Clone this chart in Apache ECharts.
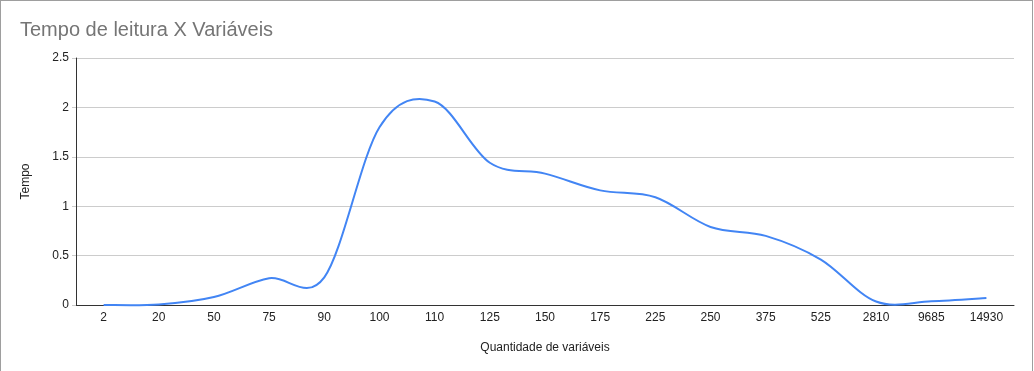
<!DOCTYPE html>
<html><head><meta charset="utf-8">
<script src="https://cdn.jsdelivr.net/npm/echarts@6/dist/echarts.min.js"></script>
<style>
html,body{margin:0;padding:0;background:#fff;}
#frame{position:absolute;left:0;top:0;width:1033px;height:376px;border:1px solid #9e9e9e;box-sizing:border-box;}
#c{position:absolute;left:0;top:0;width:1034px;height:371px;}
</style></head>
<body>
<div id="c"></div>
<div id="frame"></div>
<script>
const categories = ['2','20','50','75','90','100','110','125','150','175','225','250','375','525','2810','9685','14930'];
const tempo = [0, 0.005, 0.08, 0.27, 0.28, 1.8, 2.06, 1.44, 1.33, 1.16, 1.09, 0.79, 0.70, 0.46, 0.035, 0.038, 0.07];
const yTicks = [0, 0.5, 1, 1.5, 2, 2.5];

function renderCurve(params, api) {
  if (params.dataIndex !== 0) return null;
  const pts = tempo.map((v, i) => api.coord([i, v]));
  let d = 'M' + pts[0][0] + ' ' + pts[0][1];
  for (let i = 0; i < pts.length - 1; i++) {
    const p0 = pts[i - 1] || pts[i];
    const p1 = pts[i];
    const p2 = pts[i + 1];
    const p3 = pts[i + 2] || pts[i + 1];
    const c1x = p1[0] + (p2[0] - p0[0]) / 6, c1y = p1[1] + (p2[1] - p0[1]) / 6;
    const c2x = p2[0] - (p3[0] - p1[0]) / 6, c2y = p2[1] - (p3[1] - p1[1]) / 6;
    d += ' C' + c1x + ' ' + c1y + ' ' + c2x + ' ' + c2y + ' ' + p2[0] + ' ' + p2[1];
  }
  return {
    type: 'path',
    shape: {pathData: d},
    style: {fill: 'none', stroke: '#4285F4', lineWidth: 2}
  };
}

const chart = echarts.init(document.getElementById('c'));
chart.setOption({
  animation: false,
  title: {
    text: 'Tempo de leitura X Variáveis',
    left: 15, top: 15,
    textStyle: {fontFamily: 'Liberation Sans, Arial', fontSize: 20, fontWeight: 'normal', color: '#757575'}
  },
  grid: {left: 76, right: 20, top: 58, bottom: 66},
  xAxis: {
    type: 'category', data: categories, boundaryGap: true,
    name: 'Quantidade de variáveis', nameLocation: 'middle', nameGap: 37,
    nameTextStyle: {fontFamily: 'Liberation Sans, Arial', fontSize: 12, color: '#222'},
    axisLine: {lineStyle: {color: '#333', width: 1}},
    axisTick: {show: false},
    axisLabel: {fontFamily: 'Liberation Sans, Arial', fontSize: 12, color: '#222', margin: 7, interval: 0}
  },
  yAxis: {
    type: 'value', min: 0, max: 2.5, interval: 0.5,
    name: 'Tempo', nameLocation: 'middle', nameGap: 44,
    nameTextStyle: {fontFamily: 'Liberation Sans, Arial', fontSize: 12, color: '#222'},
    axisLine: {show: true, lineStyle: {color: '#333', width: 1}},
    axisTick: {show: true, length: 4, lineStyle: {color: '#ccc'}},
    splitLine: {lineStyle: {color: '#cccccc'}},
    axisLabel: {fontFamily: 'Liberation Sans, Arial', fontSize: 12, color: '#222', margin: 7,
      formatter: v => yTicks.includes(v) ? String(v) : ''}
  },
  series: [{
    type: 'custom',
    data: tempo.map((v, i) => [i, v]),
    encode: {x: 0, y: 1},
    renderItem: renderCurve,
    clip: false
  }]
});
</script>
</body></html>
